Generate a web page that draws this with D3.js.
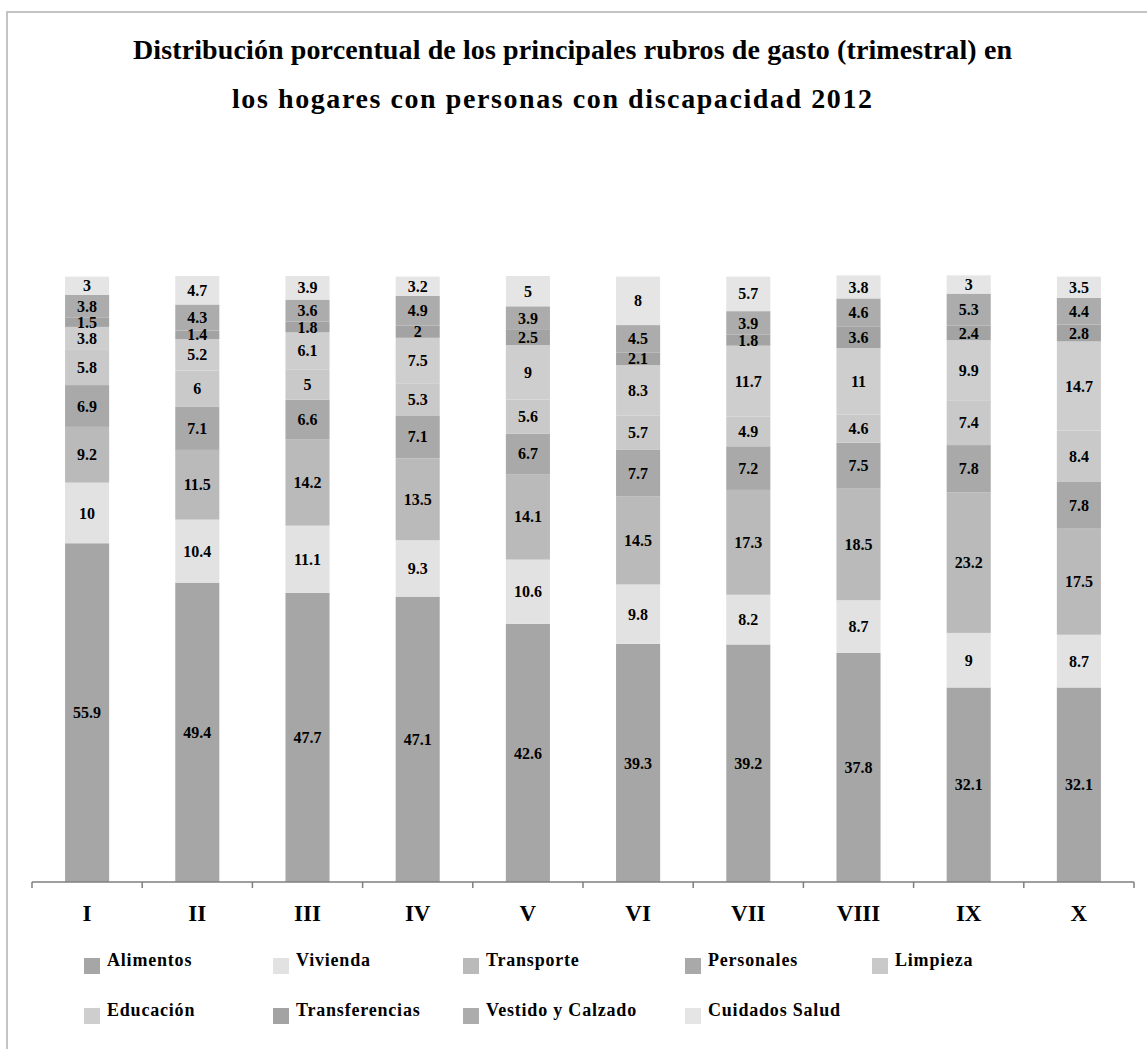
<!DOCTYPE html>
<html><head><meta charset="utf-8">
<script src="https://cdn.jsdelivr.net/npm/d3@7"></script>
<style>body{margin:0;background:#fff}svg{display:block}text{font-family:"Liberation Serif","Times New Roman",serif;font-weight:bold;fill:#000}</style>
</head><body><svg id="c" width="1147" height="1049"></svg>
<script>
const categories = ["I","II","III","IV","V","VI","VII","VIII","IX","X"];
const seriesNames = ["Alimentos","Vivienda","Transporte","Personales","Limpieza","Educación","Transferencias","Vestido y Calzado","Cuidados Salud"];
const alimentos      = [55.9,49.4,47.7,47.1,42.6,39.3,39.2,37.8,32.1,32.1];
const vivienda       = [10,10.4,11.1,9.3,10.6,9.8,8.2,8.7,9,8.7];
const transporte     = [9.2,11.5,14.2,13.5,14.1,14.5,17.3,18.5,23.2,17.5];
const personales     = [6.9,7.1,6.6,7.1,6.7,7.7,7.2,7.5,7.8,7.8];
const limpieza       = [5.8,6,5,5.3,5.6,5.7,4.9,4.6,7.4,8.4];
const educacion      = [3.8,5.2,6.1,7.5,9,8.3,11.7,11,9.9,14.7];
const transferencias = [1.5,1.4,1.8,2,2.5,2.1,1.8,3.6,2.4,2.8];
const vestido        = [3.8,4.3,3.6,4.9,3.9,4.5,3.9,4.6,5.3,4.4];
const cuidados       = [3,4.7,3.9,3.2,5,8,5.7,3.8,3,3.5];
const seriesValues = [alimentos,vivienda,transporte,personales,limpieza,educacion,transferencias,vestido,cuidados];
const colors = ["#a6a6a6","#e2e2e2","#bababa","#a9a9a9","#c9c9c9","#cecece","#a3a3a3","#acacac","#e5e5e5"];
const titleLines = ["Distribución porcentual de los principales rubros de gasto (trimestral) en","los hogares con personas con discapacidad 2012"];

const rows = categories.map((c,i)=>{const r={cat:c};seriesNames.forEach((s,j)=>r[s]=seriesValues[j][i]);return r;});
const stack = d3.stack().keys(seriesNames)(rows);

const svg = d3.select("#c");
// frame
svg.append("path").attr("d","M7,1060 L7,12 L1160,12").attr("fill","none").attr("stroke","#c4c4c4").attr("stroke-width",2);

const x = d3.scaleBand().domain(categories).range([32,1134]).paddingInner(0.6).paddingOuter(0.3);
const xb = d3.scaleBand().domain(categories).range([32,1134]);
const y = d3.scaleLinear().domain([0,100]).range([882,276]);

// title
svg.append("text").attr("x",133).attr("y",59).style("font-size","28px")
  .attr("textLength",879).attr("lengthAdjust","spacing").text(titleLines[0]);
svg.append("text").attr("x",232).attr("y",108).style("font-size","28px")
  .attr("textLength",640).attr("lengthAdjust","spacing").text(titleLines[1]);

const g = svg.append("g");
stack.forEach((layer,k)=>{
  g.append("g").selectAll("rect").data(layer).join("rect")
    .attr("x",d=>x(d.data.cat)).attr("width",x.bandwidth())
    .attr("y",d=>y(d[1])).attr("height",d=>y(d[0])-y(d[1]))
    .attr("fill",colors[k]);
});
stack.forEach((layer,k)=>{
  g.append("g").selectAll("text").data(layer).join("text")
    .attr("x",d=>x(d.data.cat)+x.bandwidth()/2)
    .attr("y",d=>(y(d[0])+y(d[1]))/2).attr("dy","0.35em")
    .attr("text-anchor","middle").style("font-size","16px")
    .text(d=>d.data[layer.key]);
});

// axis
const ax = svg.append("g").attr("transform","translate(0,882)");
ax.append("line").attr("x1",32).attr("x2",1134).attr("stroke","#7f7f7f").attr("stroke-width",1.5);
const bounds = categories.map(c=>xb(c)).concat([1134]);
ax.selectAll("line.t").data(bounds).join("line").attr("class","t")
  .attr("x1",d=>d).attr("x2",d=>d).attr("y1",0).attr("y2",6).attr("stroke","#7f7f7f").attr("stroke-width",1.5);
ax.selectAll("text").data(categories).join("text")
  .attr("x",d=>xb(d)+xb.bandwidth()/2).attr("y",39).attr("text-anchor","middle")
  .style("font-size","23px").text(d=>d);

// legend
const legPos = [[84,958],[273,958],[463,958],[685,958],[872,958],[84,1008],[273,1008],[463,1008],[685,1008]];
const leg = svg.append("g");
seriesNames.forEach((s,i)=>{
  const [lx,ly]=legPos[i];
  leg.append("rect").attr("x",lx).attr("y",ly).attr("width",16).attr("height",16).attr("fill",colors[i]);
  leg.append("text").attr("x",lx+23).attr("y",ly+8).style("font-size","18px").style("letter-spacing","0.8px").text(s);
});
</script></body></html>
